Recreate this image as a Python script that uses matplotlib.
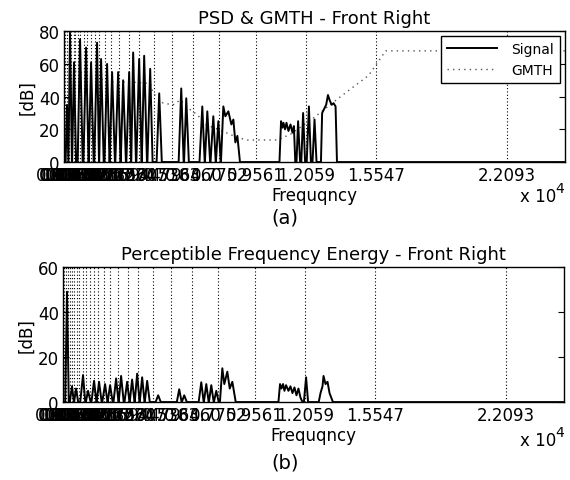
import matplotlib
matplotlib.use("Agg")
import matplotlib.pyplot as plt

# critical band edges (Hz), snapped to FFT bins
band_edges = [43.07, 172.27, 258.40, 344.53, 473.73, 559.86, 689.06, 818.26,
              990.53, 1162.79, 1335.06, 1550.39, 1765.72, 2067.19, 2368.65,
              2756.25, 3230.0, 3746.8, 4478.9, 5383.3, 6460.0, 7751.95,
              9560.74, 12058.6, 15547.0, 22093.0]

# (a) PSD of the signal, frequency (Hz) / level (dB)
psd_f = [0, 80, 150, 220, 220, 300, 395, 405, 500, 600, 680, 800, 930,
         970, 1100, 1225, 1235, 1350, 1480, 1510, 1650, 1745, 1755, 1850, 1980,
         2020, 2150, 2270, 2280, 2400, 2540, 2560, 2700, 2820, 2830, 2950, 3090,
         3110, 3250, 3345, 3355, 3450, 3590, 3610, 3750, 3870, 3880, 4000, 4140,
         4160, 4300, 4420, 4620, 4750, 4880, 5720, 5850, 5970, 5990, 6100, 6230,
         6760, 6900, 7020, 7030, 7150, 7290, 7310, 7450, 7570, 7580, 7700, 7820,
         7830, 7950, 8050, 8200, 8350, 8450, 8550, 8650, 8780,
         10750, 10830, 10900, 10950, 11030, 11100, 11200, 11300, 11400, 11470, 11540,
         11600, 11680, 11780, 11840, 11930, 12030, 12110, 12220, 12320,
         12400, 12500, 12600,
         12820, 12880, 13000, 13080, 13170, 13250, 13350, 13450, 13550, 13620,
         25000]
psd_db = [0, 0, 35, 0, 0, 79, 0, 0, 61, 0, 0, 75, 0,
          0, 70, 0, 0, 61, 0, 0, 73, 0, 0, 63, 0,
          0, 60, 0, 0, 55, 0, 0, 55, 0, 0, 50, 0,
          0, 55, 0, 0, 67, 0, 0, 63, 0, 0, 65, 0,
          0, 57, 0, 0, 42, 0, 0, 45, 0, 0, 39, 0,
          0, 34, 0, 0, 31, 0, 0, 28, 0, 0, 25, 0,
          0, 34, 28, 31, 23, 26, 12, 16, 0,
          0, 25, 21, 24, 20, 24, 19, 23, 18, 22, 0,
          0, 25, 0, 0, 30, 0, 0, 34, 0,
          0, 26, 0,
          0, 30, 33, 35, 41, 38, 35, 36, 34, 0,
          0]

# (a) global masking threshold
gmth_f = [0, 800, 1500, 2300, 3300, 4300, 4450, 4950, 5450, 5800, 6300, 6650,
          7050, 7900, 8650, 9150, 10650, 11300, 12450, 13800, 15200, 16050, 25000]
gmth_db = [57, 55, 52, 49, 49, 48, 42, 36, 35, 38, 32, 29,
           23, 19, 15, 13.5, 13.5, 17, 27, 40, 53, 68, 68]

# (b) perceptible frequency energy
pfe_f = [0, 110, 200, 290, 340, 450, 545, 555, 650, 760, 860, 1000, 1110,
         1140, 1250, 1380, 1420, 1550, 1670, 1680, 1800, 1930, 1960, 2100, 2220,
         2230, 2350, 2480, 2520, 2650, 2770, 2780, 2900, 3030, 3070, 3200, 3320,
         3330, 3450, 3570, 3580, 3700, 3820, 3830, 3950, 4070, 4080, 4200, 4330,
         4620, 4750, 4880, 5680, 5800, 5920, 5930, 6050, 6180,
         6770, 6900, 7020, 7030, 7150, 7270, 7280, 7400, 7520, 7530, 7650, 7770,
         7830, 7950, 8050, 8200, 8320, 8450, 8620,
         10750, 10830, 10900, 10980, 11050, 11130, 11250, 11350, 11450, 11550,
         11650, 11750, 11850, 11950, 12020, 12130, 12230,
         12760, 12850, 12950, 13000, 13100, 13200, 13300, 13470, 25000]
pfe_db = [0, 0, 49, 0, 0, 7, 0, 0, 6, 0, 0, 12, 0,
          0, 5, 0, 0, 9.4, 0, 0, 9, 0, 0, 8, 0,
          0, 7.5, 0, 0, 10.5, 0, 0, 11.6, 0, 0, 9, 0,
          0, 10, 0, 0, 12.6, 0, 0, 11, 0, 0, 9.4, 0,
          0, 3, 0, 0, 5.7, 0, 0, 3, 0,
          0, 8.8, 0, 0, 8, 0, 0, 7.5, 0, 0, 5, 0,
          0, 15, 8, 13.5, 6, 9, 0,
          0, 8, 6, 8, 5, 7.5, 5, 7, 4, 6.5,
          3, 6, 2, 0, 0, 11, 0,
          0, 4, 7, 11.6, 8, 9, 4, 0, 0]

FS = 12
plt.rcParams['font.family'] = ['DejaVu Sans']

fig = plt.figure(figsize=(5.7, 4.81), dpi=100)


def setup(ax, ymax, yt):
    ax.set_xlim(0, 25000)
    ax.set_ylim(0, ymax)
    ax.set_xticks(band_edges)
    ax.set_xticklabels(["%.4f" % (v / 1e4) for v in band_edges], fontsize=FS)
    ax.set_yticks(yt)
    ax.set_yticklabels([str(v) for v in yt], fontsize=FS)
    ax.tick_params(direction='in', top=True, right=True, length=4, pad=3)
    ax.tick_params(axis='x', length=0)
    for v in band_edges:
        ax.axvline(v, color='black', lw=0.8, ls=(0, (1, 2)), zorder=1)
    for s in ax.spines.values():
        s.set_linewidth(1.0)
    ax.set_ylabel('[dB]', fontsize=FS, labelpad=2)
    ax.set_xlabel('Frequqncy', fontsize=FS, labelpad=1)


# (a)
ax1 = fig.add_axes([0.1123, 0.661, 0.879, 0.272])
setup(ax1, 80, [0, 20, 40, 60, 80])
ax1.plot(psd_f, psd_db, color='black', lw=1.4, label='Signal', zorder=3)
ax1.plot(gmth_f, gmth_db, color='#555555', lw=1.0, ls=(0, (1, 3)), label='GMTH', zorder=2)
ax1.set_title('PSD & GMTH - Front Right', fontsize=13, pad=6)
leg = ax1.legend(loc='upper right', fontsize=10, frameon=True, fancybox=False,
                 borderaxespad=0.35, handlelength=3.6, labelspacing=0.45,
                 borderpad=0.45, handletextpad=1.0, framealpha=1.0)
leg.get_frame().set_edgecolor('black')
leg.get_frame().set_linewidth(1.0)
leg.set_zorder(5)

# (b)
ax2 = fig.add_axes([0.1105, 0.162, 0.879, 0.281])
setup(ax2, 60, [0, 20, 40, 60])
ax2.plot(pfe_f, pfe_db, color='black', lw=1.4, zorder=3)
ax2.set_title('Perceptible Frequency Energy - Front Right', fontsize=13, pad=6)

# exponent labels and captions
for yb, yc, cap in [(197, 218, '(a)'), (441, 463, '(b)')]:
    fig.text(520 / 570, 1 - yb / 481, 'x 10', fontsize=FS, va='center', ha='left')
    fig.text(555 / 570, 1 - (yb - 8) / 481, '4', fontsize=10, va='center', ha='left')
    fig.text(285 / 570, 1 - yc / 481, cap, fontsize=14, va='center', ha='center')

fig.savefig('out.png', dpi=100)
